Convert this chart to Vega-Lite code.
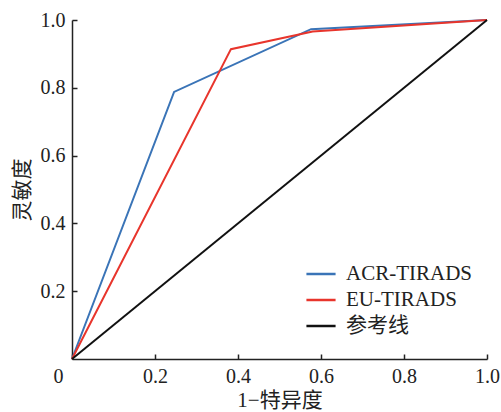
{
  "$schema": "https://vega.github.io/schema/vega-lite/v6.json",
  "width": 415,
  "height": 339,
  "autosize": "none",
  "padding": {"left": 72, "top": 20, "right": 14, "bottom": 53},
  "background": "white",
  "config": {
    "view": {"stroke": null}
  },
  "data": {
    "values": [
      {"series": "ACR-TIRADS", "x": 0, "y": 0, "o": 0},
      {"series": "ACR-TIRADS", "x": 0.246, "y": 0.788, "o": 1},
      {"series": "ACR-TIRADS", "x": 0.576, "y": 0.973, "o": 2},
      {"series": "ACR-TIRADS", "x": 1, "y": 1, "o": 3},
      {"series": "EU-TIRADS", "x": 0, "y": 0, "o": 0},
      {"series": "EU-TIRADS", "x": 0.383, "y": 0.914, "o": 1},
      {"series": "EU-TIRADS", "x": 0.58, "y": 0.966, "o": 2},
      {"series": "EU-TIRADS", "x": 1, "y": 1, "o": 3},
      {"series": "参考线", "x": 0, "y": 0, "o": 0},
      {"series": "参考线", "x": 1, "y": 1, "o": 1}
    ]
  },
  "mark": {"type": "line", "strokeWidth": 2},
  "encoding": {
    "x": {
      "field": "x", "type": "quantitative",
      "scale": {"domain": [0, 1], "nice": false, "zero": true},
      "axis": {
        "title": "1−特异度",
        "values": [0, 0.2, 0.4, 0.6, 0.8, 1.0],
        "labelExpr": "datum.value === 0 ? '0' : format(datum.value, '.1f')",
        "labelFlush": false,
        "labelOffset": {"condition": {"test": "datum.value === 0", "value": -14}, "value": 0},
        "grid": false,
        "domainColor": "#222", "domainWidth": 1.5,
        "tickColor": "#222", "tickWidth": 1.5, "tickSize": -5,
        "labelPadding": 12,
        "labelFont": "Liberation Serif", "labelFontSize": 20, "labelColor": "#222",
        "titleFont": "Liberation Serif, Noto Sans CJK SC", "titleFontSize": 21, "titleFontWeight": "normal", "titleColor": "#222",
        "titlePadding": 3
      }
    },
    "y": {
      "field": "y", "type": "quantitative",
      "scale": {"domain": [0, 1], "nice": false, "zero": true},
      "axis": {
        "title": "灵敏度",
        "values": [0.2, 0.4, 0.6, 0.8, 1.0],
        "format": ".1f",
        "labelFlush": false,
        "grid": false,
        "domainColor": "#222", "domainWidth": 1.5,
        "tickColor": "#222", "tickWidth": 1.5, "tickSize": -5,
        "labelPadding": 12,
        "labelFont": "Liberation Serif", "labelFontSize": 20, "labelColor": "#222",
        "titleFont": "Liberation Serif, Noto Sans CJK SC", "titleFontSize": 21, "titleFontWeight": "normal", "titleColor": "#222",
        "titlePadding": 8
      }
    },
    "order": {"field": "o", "type": "quantitative"},
    "color": {
      "field": "series", "type": "nominal",
      "scale": {"domain": ["ACR-TIRADS", "EU-TIRADS", "参考线"], "range": ["#3a74b7", "#e8352c", "#111111"]},
      "legend": {
        "title": null,
        "orient": "none",
        "legendX": 233,
        "legendY": 238,
        "symbolType": "stroke",
        "symbolSize": 850,
        "symbolStrokeWidth": 2.5,
        "labelFont": "Liberation Serif, Noto Sans CJK SC",
        "labelFontSize": 21,
        "labelColor": "#222",
        "rowPadding": 0,
        "labelOffset": 9
      }
    }
  }
}
